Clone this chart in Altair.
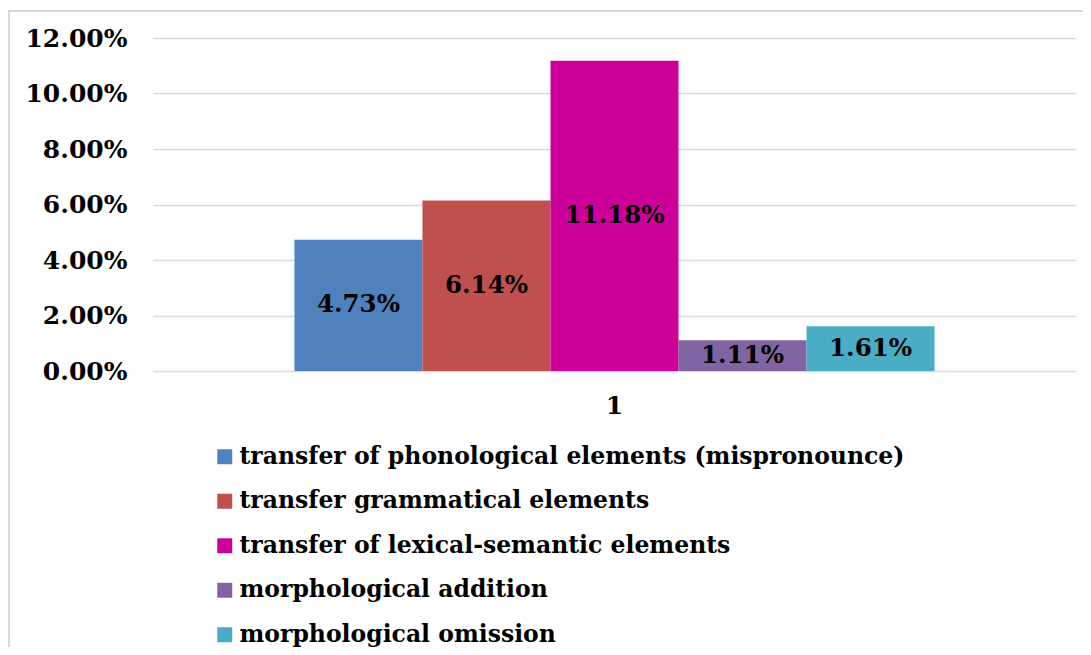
import altair as alt
import pandas as pd

series = [
    "transfer of phonological elements (mispronounce)",
    "transfer grammatical elements",
    "transfer of lexical-semantic elements",
    "morphological addition",
    "morphological omission",
]
values = [0.0473, 0.0614, 0.1118, 0.0111, 0.0161]
labels = ["4.73%", "6.14%", "11.18%", "1.11%", "1.61%"]
colors = ["#4F81BD", "#C0504D", "#CC0099", "#8064A2", "#4BACC6"]
group = ["1"] * 5
y_ticks = [0, 0.02, 0.04, 0.06, 0.08, 0.10, 0.12]

df = pd.DataFrame({"group": group, "series": series, "value": values, "label": labels})

FONT = "DejaVu Serif"

x_enc = alt.X(
    "group:N",
    scale=alt.Scale(paddingInner=0, paddingOuter=0.221),
    axis=alt.Axis(title=None, labelAngle=0, ticks=False, domain=False,
                  labelFont=FONT, labelFontWeight="bold", labelFontSize=25,
                  labelColor="#000000", labelPadding=22),
)
xoff_enc = alt.XOffset("series:N", sort=series,
                       scale=alt.Scale(paddingInner=0, paddingOuter=0))

base = alt.Chart(df)

bars = base.mark_bar().encode(
    x=x_enc,
    xOffset=xoff_enc,
    y=alt.Y("value:Q", scale=alt.Scale(domain=[0, 0.12]),
            axis=alt.Axis(title=None, format=".2%", values=y_ticks, ticks=False,
                          domain=False, gridColor="#d9d9d9", gridWidth=1.5,
                          labelFont=FONT, labelFontWeight="bold", labelFontSize=25,
                          labelColor="#000000", labelPadding=26)),
    color=alt.Color("series:N", sort=series,
                    scale=alt.Scale(domain=series, range=colors),
                    legend=alt.Legend(title=None, orient="none", legendX=60, legendY=407,
                                      symbolType="square", symbolSize=225,
                                      symbolStrokeWidth=0, labelFont=FONT,
                                      labelFontWeight="bold", labelFontSize=23.5,
                                      labelColor="#000000", labelLimit=900,
                                      labelOffset=3, rowPadding=19.5, padding=0)),
)

text = base.transform_calculate(mid="datum.value / 2").mark_text(
    font=FONT, fontWeight="bold", fontSize=24.5, color="#000000", baseline="middle"
).encode(
    x=x_enc,
    xOffset=xoff_enc,
    y=alt.Y("mid:Q"),
    text="label:N",
)

frame = alt.Chart(alt.Data(values=[{"a": 1}])).mark_rect(
    filled=False, stroke="#d9d9d9", strokeWidth=2
).encode(
    x=alt.value(-144), x2=alt.value(970), y=alt.value(-27), y2=alt.value(700)
)

chart = alt.layer(frame, bars, text).properties(
    width=923, height=333,
    autosize=alt.AutoSizeParams(type="none"),
    padding={"left": 145, "top": 30, "right": 7, "bottom": 276},
).configure_view(stroke=None)

chart.save("out.html", embed_options={"renderer": "svg", "actions": False})
